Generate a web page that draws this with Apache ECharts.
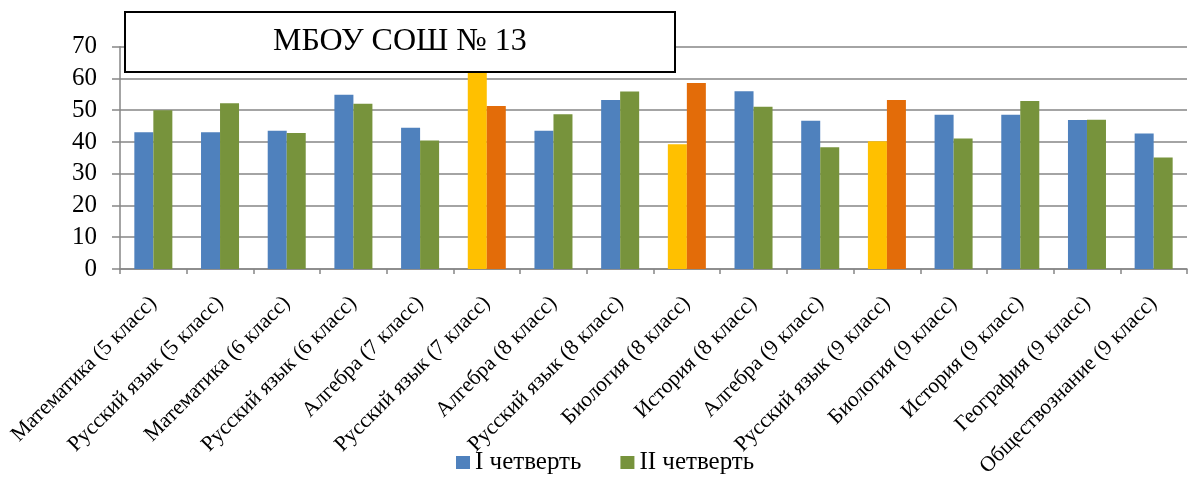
<!DOCTYPE html>
<html>
<head>
<meta charset="utf-8">
<script src="https://cdn.jsdelivr.net/npm/echarts@6/dist/echarts.min.js"></script>
<style>
html,body{margin:0;padding:0;background:#fff;}
#chart{width:1199px;height:480px;}
</style>
</head>
<body>
<div id="chart"></div>
<script>
const categories = [
  'Математика (5 класс)', 'Русский язык (5 класс)', 'Математика (6 класс)', 'Русский язык (6 класс)',
  'Алгебра (7 класс)', 'Русский язык (7 класс)', 'Алгебра (8 класс)', 'Русский язык (8 класс)',
  'Биология (8 класс)', 'История (8 класс)', 'Алгебра (9 класс)', 'Русский язык (9 класс)',
  'Биология (9 класс)', 'История (9 класс)', 'География (9 класс)', 'Обществознание (9 класс)'
];
const quarter1 = [43.1, 43.1, 43.5, 54.9, 44.5, 62, 43.5, 53.2, 39.3, 56.0, 46.7, 40.2, 48.6, 48.6, 46.9, 42.7];
const quarter2 = [50.0, 52.2, 42.8, 52.0, 40.5, 51.3, 48.7, 55.9, 58.6, 51.1, 38.3, 53.2, 41.1, 52.9, 47.0, 35.1];
// categories whose bars are highlighted in a different colour
const highlighted = ['Русский язык (7 класс)', 'Биология (8 класс)', 'Русский язык (9 класс)'];
const seriesNames = ['I четверть', 'II четверть'];
const yTicks = [0, 10, 20, 30, 40, 50, 60, 70];
const titleText = 'МБОУ СОШ № 13';

const colors = {q1: '#4F81BD', q2: '#77933C', q1hi: '#FFC000', q2hi: '#E36C09'};
const serif = 'Liberation Serif';

function build(values, hi) {
  return values.map((v, i) => highlighted.includes(categories[i])
    ? {value: v, itemStyle: {color: hi}}
    : v);
}

const chart = echarts.init(document.getElementById('chart'), null, {renderer: 'canvas'});
chart.setOption({
  animation: false,
  backgroundColor: '#fff',
  textStyle: {fontFamily: serif},
  title: {
    text: titleText,
    left: 125, top: 12,
    padding: [14, 148],
    borderColor: '#000', borderWidth: 2,
    backgroundColor: '#fff',
    textStyle: {fontFamily: serif, fontSize: 32, fontWeight: 'normal', color: '#000', lineHeight: 32}
  },
  legend: {
    data: seriesNames,
    left: 451, top: 445,
    itemWidth: 14, itemHeight: 13, itemGap: 39,
    icon: 'rect',
    textStyle: {fontFamily: serif, fontSize: 25, color: '#000'}
  },
  grid: {left: 120, right: 12, top: 46.7, bottom: 211, containLabel: false},
  xAxis: {
    type: 'category',
    data: categories,
    axisLine: {lineStyle: {color: '#868686', width: 1.5}},
    axisTick: {show: true, length: 5, lineStyle: {color: '#868686', width: 1.5}},
    axisLabel: {rotate: 45, interval: 0, margin: 31, fontFamily: serif, fontSize: 21.5, color: '#000'}
  },
  yAxis: {
    type: 'value',
    min: yTicks[0], max: yTicks[yTicks.length - 1], interval: 10,
    axisLine: {show: true, lineStyle: {color: '#868686', width: 1.5}},
    axisTick: {show: true, length: 8, lineStyle: {color: '#868686', width: 1.5}},
    splitLine: {lineStyle: {color: '#868686', width: 1.5}},
    axisLabel: {margin: 23, fontFamily: serif, fontSize: 25, color: '#000'}
  },
  series: [
    {name: seriesNames[0], type: 'bar', data: build(quarter1, colors.q1hi),
     itemStyle: {color: colors.q1}, barGap: '0%', barCategoryGap: '43%'},
    {name: seriesNames[1], type: 'bar', data: build(quarter2, colors.q2hi),
     itemStyle: {color: colors.q2}, barGap: '0%', barCategoryGap: '43%'}
  ]
});
</script>
</body>
</html>
